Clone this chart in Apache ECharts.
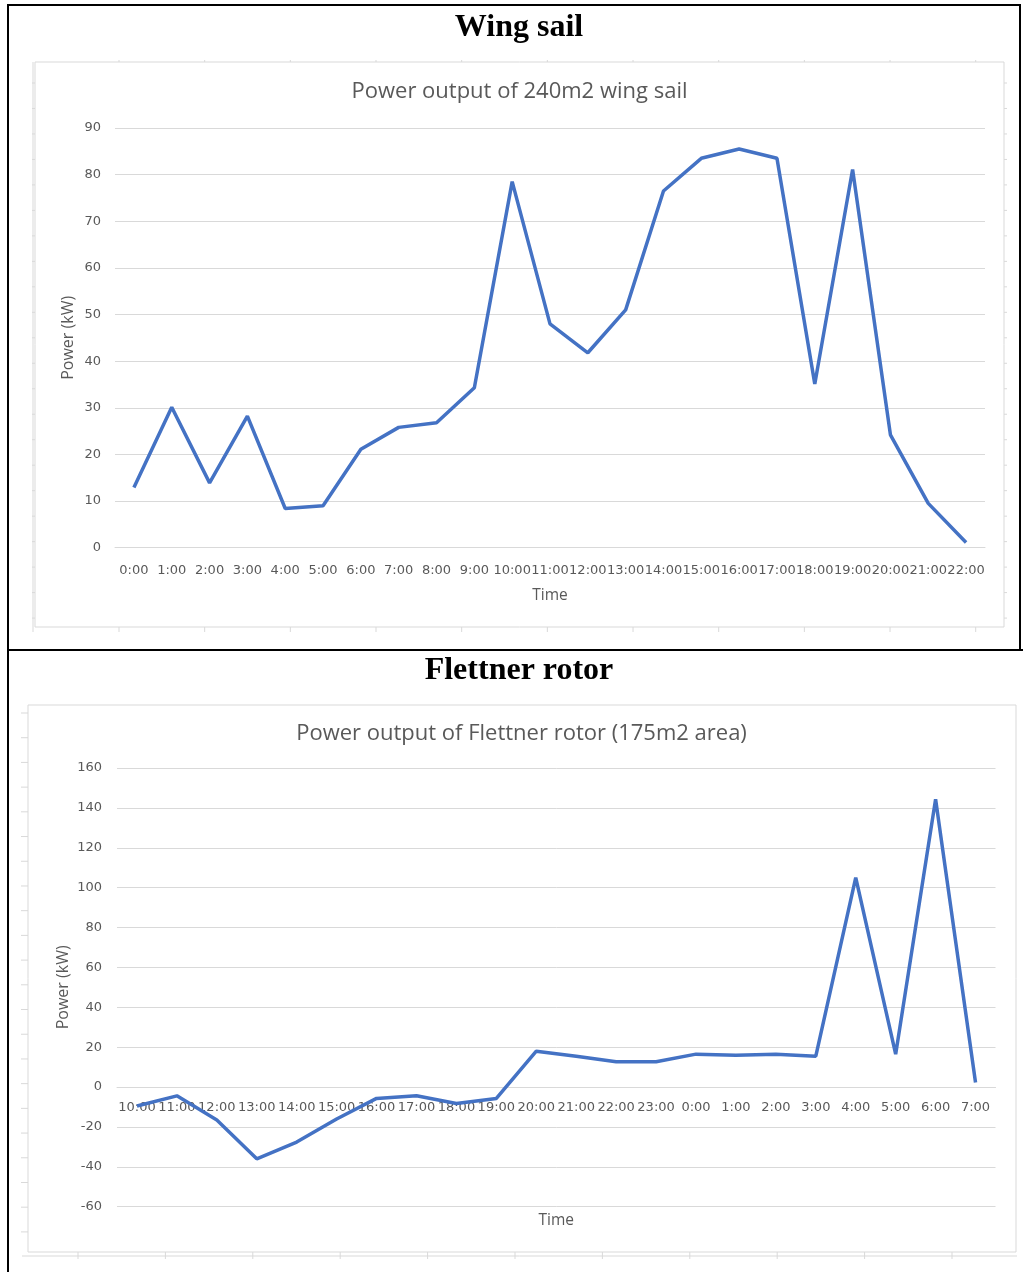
<!DOCTYPE html>
<html>
<head>
<meta charset="utf-8">
<script src="https://cdn.jsdelivr.net/npm/echarts@6/dist/echarts.min.js"></script>
<style>
  html, body { margin: 0; padding: 0; background: #fff; }
  #chart { width: 1023px; height: 1272px; }
</style>
</head>
<body>
<div id="chart"></div>
<script>
  // wing sail, hourly
  var wingHours = ['0:00', '1:00', '2:00', '3:00', '4:00', '5:00', '6:00', '7:00', '8:00', '9:00', '10:00',
    '11:00', '12:00', '13:00', '14:00', '15:00', '16:00', '17:00', '18:00', '19:00', '20:00', '21:00', '22:00'];
  var wingPower = [12.9, 30.1, 13.9, 28.2, 8.4, 9.0, 21.1, 25.8, 26.8, 34.3, 78.5,
    48.0, 41.8, 51.0, 76.5, 83.5, 85.5, 83.5, 35.1, 81.1, 24.2, 9.5, 1.1];

  // flettner rotor, 10:00 to 7:00 next day
  var rotorHours = ['10:00', '11:00', '12:00', '13:00', '14:00', '15:00', '16:00', '17:00', '18:00', '19:00', '20:00',
    '21:00', '22:00', '23:00', '0:00', '1:00', '2:00', '3:00', '4:00', '5:00', '6:00', '7:00'];
  var rotorPower = [-9.5, -4.4, -16.5, -36.0, -27.6, -16.0, -5.7, -4.4, -8.2, -5.7, 18.0,
    15.5, 12.7, 12.7, 16.5, 15.9, 16.5, 15.5, 105.0, 16.5, 144.3, 2.3];

  var wingTicks = {min: 0, max: 90, interval: 10};
  var rotorTicks = {min: -60, max: 160, interval: 20};

  var grey = '#595959';
  var light = '#d9d9d9';
  var blue = '#4472C4';
  var labelFont = 'DejaVu Sans';
  var nameFont = 'Open Sans';

  // grid boxes (px)
  var wingGrid = {left: 115, right: 38, top: 128, bottom: 724.3};
  var rotorGrid = {left: 117, right: 27.5, top: 768, bottom: 65.3};
  var rotorGridHeight = 1272 - rotorGrid.top - rotorGrid.bottom;
  // excel draws the category labels on the zero line, so lift the x axis up to it
  var rotorZeroOffset = -(0 - rotorTicks.min) / (rotorTicks.max - rotorTicks.min) * rotorGridHeight;

  // faint spreadsheet cell edges around the pasted charts
  function stubs() {
    var out = [];
    var i;
    for (i = 0; i <= 10; i++) {
      var x1 = 119 + i * 85.67;
      out.push({type: 'line', shape: {x1: x1, y1: 60, x2: x1, y2: 62}});
      out.push({type: 'line', shape: {x1: x1, y1: 627, x2: x1, y2: 632}});
      var x2 = 78 + i * 87.4;
      out.push({type: 'line', shape: {x1: x2, y1: 1252, x2: x2, y2: 1259}});
    }
    for (i = 0; i <= 21; i++) {
      var y1 = 83 + i * 25.48;
      out.push({type: 'line', shape: {x1: 32, y1: y1, x2: 35, y2: y1}});
      out.push({type: 'line', shape: {x1: 1004, y1: y1, x2: 1007, y2: y1}});
      var y2 = 713 + i * 24.71;
      out.push({type: 'line', shape: {x1: 21, y1: y2, x2: 28, y2: y2}});
    }
    out.push({type: 'line', shape: {x1: 33, y1: 62, x2: 33, y2: 632}});
    out.push({type: 'line', shape: {x1: 22, y1: 1256, x2: 1017, y2: 1256}});
    out.forEach(function(o) {
      o.silent = true;
      o.style = {stroke: light, lineWidth: 1};
    });
    return out;
  }

  function frameLine(x1, y1, x2, y2) {
    return {type: 'line', silent: true, shape: {x1: x1, y1: y1, x2: x2, y2: y2}, style: {stroke: '#000', lineWidth: 2}};
  }

  function heading(text, x, y) {
    return {type: 'text', silent: true, x: x, y: y,
      style: {text: text, textAlign: 'center', textVerticalAlign: 'middle', fill: '#000',
        font: 'bold 32px "Liberation Serif", "Times New Roman", serif'}};
  }

  function chartTitle(text, x, y) {
    return {type: 'text', silent: true, x: x, y: y,
      style: {text: text, textAlign: 'center', textVerticalAlign: 'middle', fill: grey,
        font: '22px "Open Sans", sans-serif'}};
  }

  function box(x, y, w, h) {
    return {type: 'rect', silent: true, shape: {x: x, y: y, width: w, height: h},
      style: {fill: '#fff', stroke: light, lineWidth: 1}};
  }

  function xAxisCfg(gridIndex, cats, nameGap, margin, offset) {
    return {
      type: 'category',
      gridIndex: gridIndex,
      data: cats,
      boundaryGap: true,
      offset: offset,
      name: 'Time',
      nameLocation: 'middle',
      nameGap: nameGap,
      nameMoveOverlap: false,
      nameTextStyle: {color: grey, fontFamily: nameFont, fontSize: 15.5},
      axisLine: {show: true, onZero: false, lineStyle: {color: light, width: 1}},
      axisTick: {show: false},
      axisLabel: {interval: 0, margin: margin, color: grey, fontFamily: labelFont, fontSize: 13},
      splitLine: {show: false}
    };
  }

  function yAxisCfg(gridIndex, ticks, nameGap, margin) {
    return {
      type: 'value',
      gridIndex: gridIndex,
      min: ticks.min,
      max: ticks.max,
      interval: ticks.interval,
      name: 'Power (kW)',
      nameLocation: 'middle',
      nameGap: nameGap,
      nameMoveOverlap: false,
      nameTextStyle: {color: grey, fontFamily: nameFont, fontSize: 16},
      axisLine: {show: false},
      axisTick: {show: false},
      axisLabel: {margin: margin, color: grey, fontFamily: labelFont, fontSize: 13},
      splitLine: {show: true, lineStyle: {color: light, width: 1}}
    };
  }

  var chart = echarts.init(document.getElementById('chart'), null, {renderer: 'canvas'});

  chart.setOption({
    backgroundColor: '#fff',
    animation: false,
    graphic: {
      elements: [].concat(
        stubs(),
        [
          box(35, 62, 969, 565),
          box(28, 705, 988, 547),
          frameLine(8, 5, 8, 1272),
          frameLine(7, 5, 1021, 5),
          frameLine(1020, 5, 1020, 651),
          frameLine(7, 650, 1023, 650),
          heading('Wing sail', 519, 28),
          heading('Flettner rotor', 519, 671),
          chartTitle('Power output of 240m2 wing sail', 519.5, 92),
          chartTitle('Power output of Flettner rotor (175m2 area)', 521.5, 734)
        ]
      )
    },
    grid: [
      {left: wingGrid.left, right: wingGrid.right, top: wingGrid.top, bottom: wingGrid.bottom, outerBoundsMode: 'none'},
      {left: rotorGrid.left, right: rotorGrid.right, top: rotorGrid.top, bottom: rotorGrid.bottom, outerBoundsMode: 'none'}
    ],
    xAxis: [
      xAxisCfg(0, wingHours, 40, 16, 0),
      xAxisCfg(1, rotorHours, 126, 14, rotorZeroOffset)
    ],
    yAxis: [
      yAxisCfg(0, wingTicks, 39, 14),
      yAxisCfg(1, rotorTicks, 46, 15)
    ],
    series: [
      {
        name: 'Wing sail',
        type: 'line',
        xAxisIndex: 0,
        yAxisIndex: 0,
        data: wingPower,
        symbol: 'none',
        lineStyle: {color: blue, width: 3.5},
        itemStyle: {color: blue}
      },
      {
        name: 'Flettner rotor',
        type: 'line',
        xAxisIndex: 1,
        yAxisIndex: 1,
        data: rotorPower,
        symbol: 'none',
        lineStyle: {color: blue, width: 3.5},
        itemStyle: {color: blue}
      }
    ]
  });
</script>
</body>
</html>
